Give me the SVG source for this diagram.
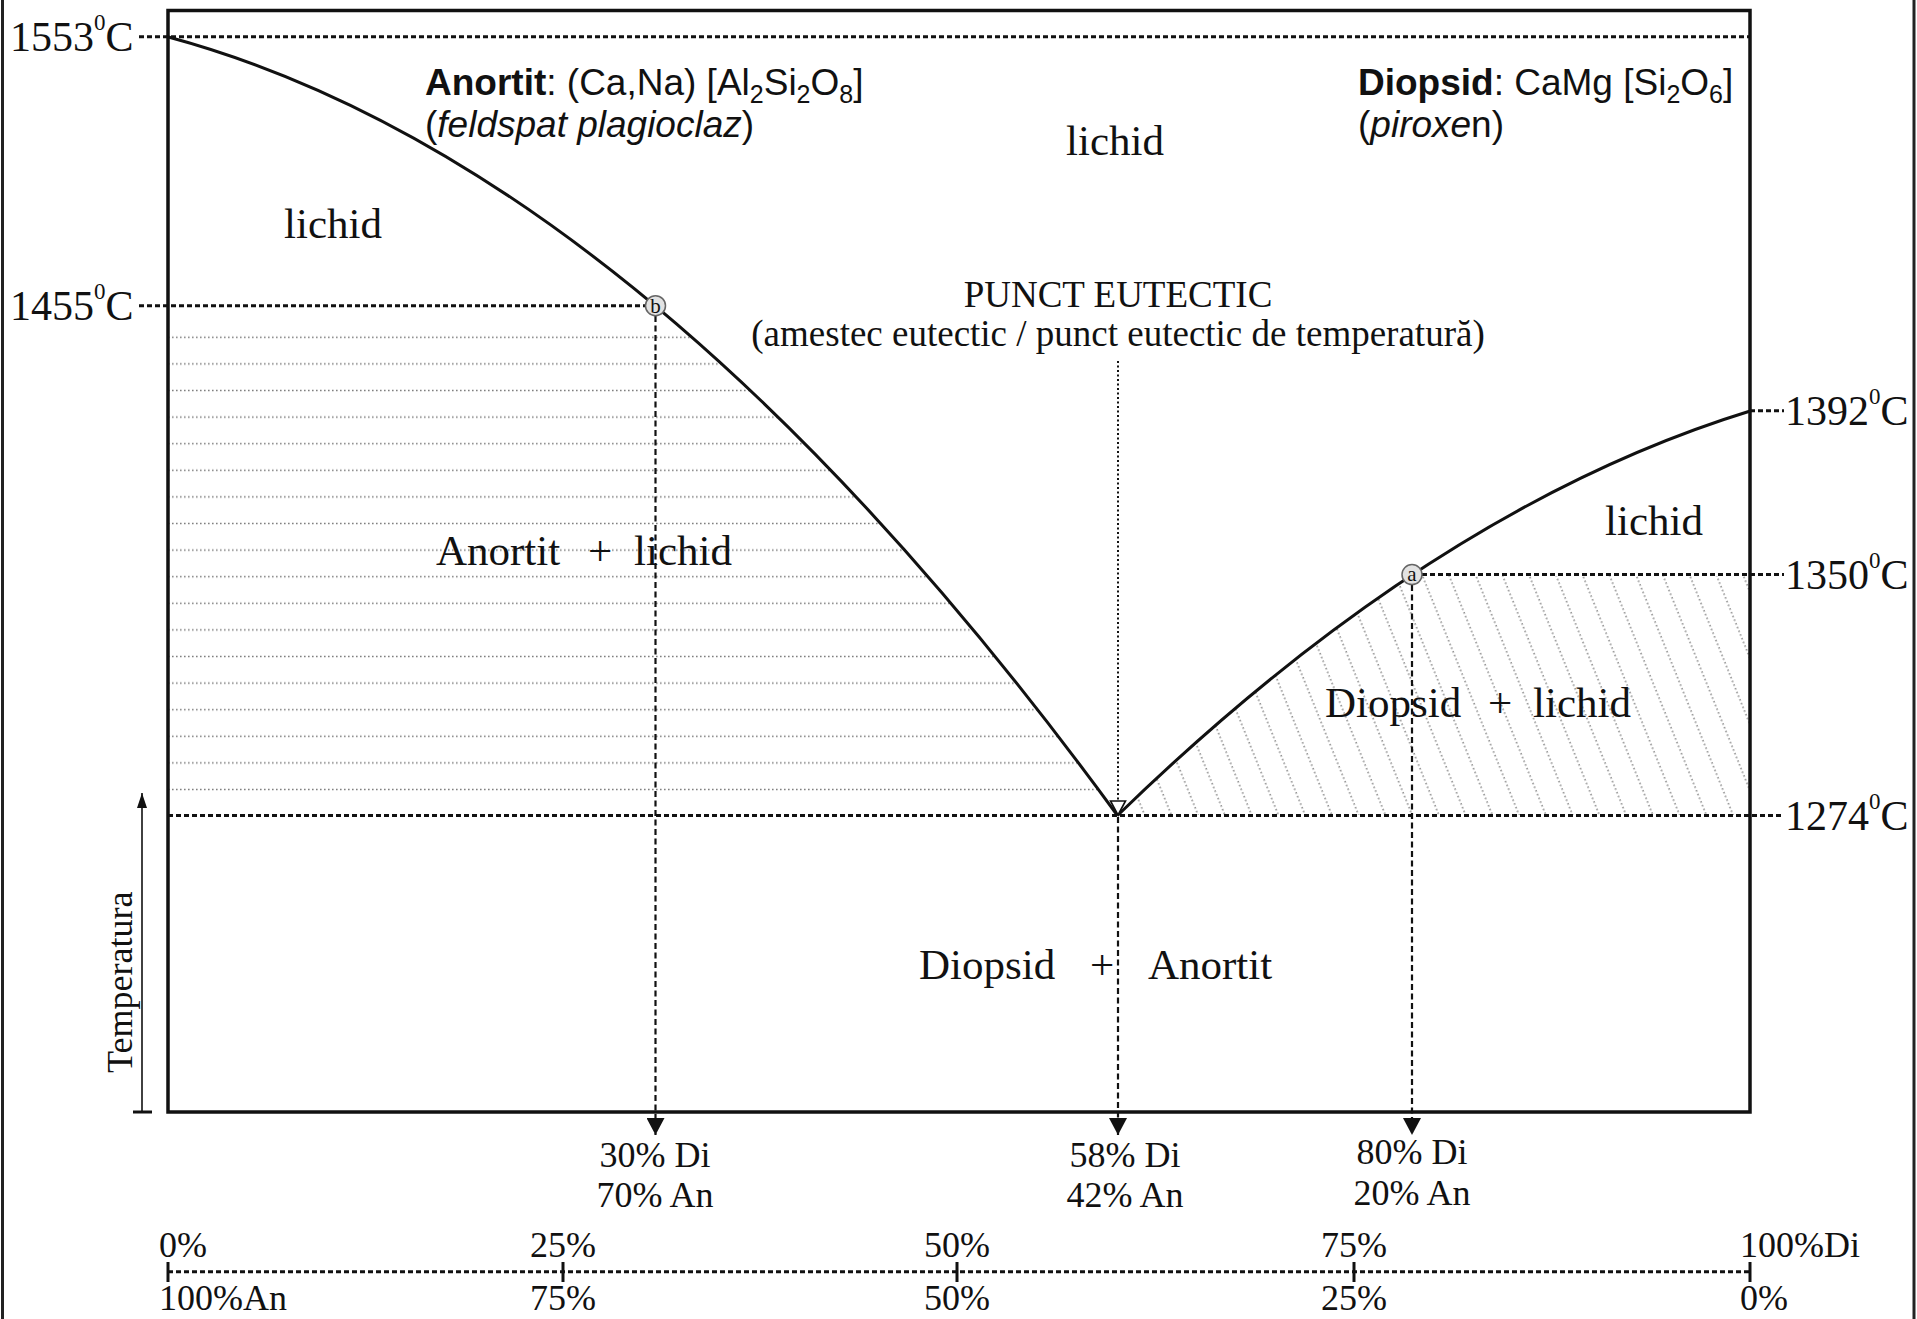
<svg xmlns="http://www.w3.org/2000/svg" width="1917" height="1319" viewBox="0 0 1917 1319">
<style>
.serif{font-family:"Liberation Serif","Times New Roman",serif;fill:#111}
.sans{font-family:"Liberation Sans",Arial,sans-serif;fill:#111}
.t40{font-size:42px}
.lab{font-size:43px}
.ax{font-size:36px}
.frame{fill:none;stroke:#111;stroke-width:3.5}
.curve{fill:none;stroke:#111;stroke-width:3}
.tline{fill:none;stroke:#111;stroke-width:3;stroke-dasharray:5 3}
.vdash{fill:none;stroke:#111;stroke-width:2.2;stroke-dasharray:6 3.5}
.vdot{fill:none;stroke:#111;stroke-width:2;stroke-dasharray:2 2.5}
.tick{stroke:#111;stroke-width:3}
.pt{fill:#e2e2e2;stroke:#666;stroke-width:1.5}
</style>
<defs>
<marker id="ah" markerUnits="userSpaceOnUse" markerWidth="18" markerHeight="18" refX="17" refY="9" orient="auto">
<path d="M0,0 L17,9 L0,18 Z" fill="#111"/>
</marker>
<marker id="ahOpen" markerUnits="userSpaceOnUse" markerWidth="18" markerHeight="18" refX="15" refY="9" orient="auto">
<path d="M1,1.5 L15,9 L1,16.5 Z" fill="#fff" stroke="#111" stroke-width="1.6"/>
</marker>
<marker id="ahSmall" markerUnits="userSpaceOnUse" markerWidth="16" markerHeight="10" refX="15" refY="5" orient="auto">
<path d="M0,0 L15,5 L0,10 Z" fill="#111"/>
</marker>
<pattern id="hz" patternUnits="userSpaceOnUse" x="0" y="324" width="400" height="26.6">
<line x1="0" y1="13.3" x2="400" y2="13.3" stroke="#808080" stroke-width="1.5" stroke-dasharray="1.6 2.4"/>
</pattern>
<pattern id="dg" patternUnits="userSpaceOnUse" x="0" y="0" width="24.8" height="100" patternTransform="rotate(-22)">
<line x1="12" y1="0" x2="12" y2="100" stroke="#808080" stroke-width="1.5" stroke-dasharray="1.6 2.4"/>
</pattern>
<clipPath id="clipL"><path d="M167.5,36.7 Q642.5,164.6 1117.5,815.5 L167.5,815.5 Z"/></clipPath>
<clipPath id="clipR"><path d="M1117.5,815.5 Q1434,508 1751,410.8 L1751,815.5 Z"/></clipPath>
</defs>

<rect x="0" y="0" width="1917" height="1319" fill="#fff"/>
<g id="page-border">
<line x1="2.5" y1="0" x2="2.5" y2="1319" stroke="#222" stroke-width="3"/>
<line x1="1914" y1="0" x2="1914" y2="1319" stroke="#222" stroke-width="3"/>
</g>

<g id="region-anortit-lichid">
<rect x="168" y="325" width="960" height="490" fill="url(#hz)" clip-path="url(#clipL)"/>
<text class="serif lab" y="565"><tspan x="436">Anortit</tspan><tspan x="588">+</tspan><tspan x="634">lichid</tspan></text>
</g>
<g id="region-diopsid-lichid">
<rect x="1100" y="576" width="651" height="239" fill="url(#dg)" clip-path="url(#clipR)"/>
<text class="serif lab" y="717"><tspan x="1325">Diopsid</tspan><tspan x="1488">+</tspan><tspan x="1533">lichid</tspan></text>
</g>
<g id="region-diopsid-anortit">
<text class="serif lab" y="979"><tspan x="919">Diopsid</tspan><tspan x="1090">+</tspan><tspan x="1148">Anortit</tspan></text>
</g>
<g id="region-lichid">
<text class="serif lab" x="284" y="238">lichid</text>
<text class="serif lab" x="1066" y="155">lichid</text>
<text class="serif lab" x="1605" y="535">lichid</text>
</g>

<g id="plot-frame">
<rect class="frame" x="168" y="10.5" width="1582" height="1101.5"/>
</g>

<g id="connectors">
<path id="liquidus-anortit" class="curve" d="M167.5,36.7 Q642.5,164.6 1117.5,815.5"/>
<path id="liquidus-diopsid" class="curve" d="M1117.5,815.5 Q1434,508 1751,410.8"/>
<line class="tline" x1="139" y1="36.7" x2="1750" y2="36.7"/>
<line class="tline" x1="139" y1="305.7" x2="645" y2="305.7"/>
<line class="tline" x1="1750" y1="410.8" x2="1784" y2="410.8"/>
<line class="tline" x1="1422" y1="574.6" x2="1784" y2="574.6"/>
<line class="tline" x1="168" y1="815.5" x2="1784" y2="815.5"/>
<line class="vdash" x1="655.5" y1="316" x2="655.5" y2="1135" marker-end="url(#ah)"/>
<line class="vdash" x1="1412" y1="585" x2="1412" y2="1135" marker-end="url(#ah)"/>
<line class="vdot" x1="1118" y1="361" x2="1118" y2="815" marker-end="url(#ahOpen)"/>
<line class="vdash" x1="1118" y1="817" x2="1118" y2="1135" marker-end="url(#ah)"/>
<line x1="142" y1="1112" x2="142" y2="793" stroke="#111" stroke-width="1.6" marker-end="url(#ahSmall)"/>
<line x1="133" y1="1112" x2="152" y2="1112" stroke="#111" stroke-width="3"/>
</g>

<g id="point-b">
<circle class="pt" cx="655.5" cy="305.7" r="10"/>
<text class="serif" x="655.5" y="312.5" font-size="21" text-anchor="middle">b</text>
</g>
<g id="point-a">
<circle class="pt" cx="1412" cy="574.6" r="10"/>
<text class="serif" x="1412" y="580.5" font-size="21" text-anchor="middle">a</text>
</g>

<g id="temp-labels" class="serif t40">
<text x="10" y="51">1553<tspan dy="-21" font-size="23">0</tspan><tspan dy="21">C</tspan></text>
<text x="10" y="320">1455<tspan dy="-21" font-size="23">0</tspan><tspan dy="21">C</tspan></text>
<text x="1785" y="425">1392<tspan dy="-21" font-size="23">0</tspan><tspan dy="21">C</tspan></text>
<text x="1785" y="589">1350<tspan dy="-21" font-size="23">0</tspan><tspan dy="21">C</tspan></text>
<text x="1785" y="830">1274<tspan dy="-21" font-size="23">0</tspan><tspan dy="21">C</tspan></text>
</g>

<g id="mineral-anortit" class="sans" font-size="37">
<text x="425" y="95"><tspan font-weight="bold">Anortit</tspan>: (Ca,Na) [Al<tspan dy="8" font-size="25">2</tspan><tspan dy="-8">Si</tspan><tspan dy="8" font-size="25">2</tspan><tspan dy="-8">O</tspan><tspan dy="8" font-size="25">8</tspan><tspan dy="-8">]</tspan></text>
<text x="425" y="137">(<tspan font-style="italic">feldspat plagioclaz</tspan>)</text>
</g>
<g id="mineral-diopsid" class="sans" font-size="37">
<text x="1358" y="95"><tspan font-weight="bold">Diopsid</tspan>: CaMg [Si<tspan dy="8" font-size="25">2</tspan><tspan dy="-8">O</tspan><tspan dy="8" font-size="25">6</tspan><tspan dy="-8">]</tspan></text>
<text x="1358" y="137">(<tspan font-style="italic">piroxe</tspan>n)</text>
</g>

<g id="eutectic-label" class="serif" font-size="37" text-anchor="middle">
<text x="1118" y="307">PUNCT EUTECTIC</text>
<text x="1118" y="346">(amestec eutectic / punct eutectic de temperatură)</text>
</g>

<g id="composition-labels" class="serif ax" text-anchor="middle">
<text x="655" y="1167">30% Di</text>
<text x="655" y="1207">70% An</text>
<text x="1125" y="1167">58% Di</text>
<text x="1125" y="1207">42% An</text>
<text x="1412" y="1164">80% Di</text>
<text x="1412" y="1205">20% An</text>
</g>

<g id="temperature-axis">
<text class="serif" font-size="36" transform="translate(132,1073) rotate(-90)">Temperatura</text>
</g>

<g id="composition-axis">
<line class="tline" x1="168" y1="1271.7" x2="1750" y2="1271.7"/>
<line class="tick" x1="168" y1="1262" x2="168" y2="1282"/>
<line class="tick" x1="563" y1="1262" x2="563" y2="1282"/>
<line class="tick" x1="957" y1="1262" x2="957" y2="1282"/>
<line class="tick" x1="1354" y1="1262" x2="1354" y2="1282"/>
<line class="tick" x1="1750" y1="1262" x2="1750" y2="1282"/>
<g class="serif ax">
<text x="159" y="1257">0%</text>
<text x="563" y="1257" text-anchor="middle">25%</text>
<text x="957" y="1257" text-anchor="middle">50%</text>
<text x="1354" y="1257" text-anchor="middle">75%</text>
<text x="1740" y="1257">100%Di</text>
<text x="159" y="1310">100%An</text>
<text x="563" y="1310" text-anchor="middle">75%</text>
<text x="957" y="1310" text-anchor="middle">50%</text>
<text x="1354" y="1310" text-anchor="middle">25%</text>
<text x="1740" y="1310">0%</text>
</g>
</g>
</svg>
